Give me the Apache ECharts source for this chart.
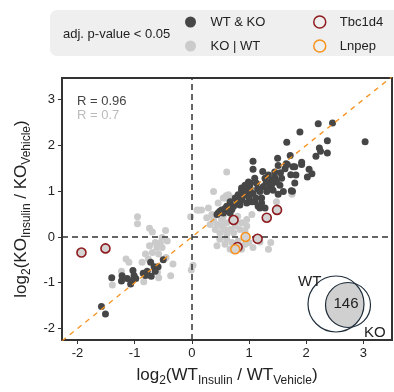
<!DOCTYPE html>
<html>
<head>
<meta charset="utf-8">
<script src="https://cdn.jsdelivr.net/npm/echarts@6/dist/echarts.min.js"></script>
<style>
  html, body { margin: 0; padding: 0; background: #fff; }
  #chart { width: 394px; height: 392px; }
</style>
</head>
<body>
<div id="chart"></div>
<script>
// log2 fold changes [WT, KO]
const bothSig = [
  [-1.58, -1.52], [-1.51, -1.68], [-1.40, -0.89], [-1.22, -0.85], [-1.23, -0.96],
  [-1.13, -0.91], [-1.07, -1.03], [-1.03, -0.73], [-1.01, -0.84], [-0.98, -0.91],
  [-1.04, -0.95], [-0.85, -0.79], [-0.78, -0.75], [-0.72, -0.55], [-0.66, -0.65],
  [-0.59, -0.65], [-0.71, -0.86], [-0.50, -0.50], [-0.64, -0.75], [-0.81, -0.84],
  [2.21, 2.47], [2.46, 2.49], [1.89, 2.29], [1.66, 2.07], [2.37, 2.10], [3.03, 2.08],
  [2.23, 1.94], [2.25, 1.87], [2.37, 1.83], [2.17, 1.76], [1.92, 1.63], [1.92, 1.58],
  [1.80, 1.53], [2.05, 1.48], [2.10, 1.38], [1.82, 1.35], [2.02, 1.31], [1.80, 1.18],
  [1.74, 1.01], [1.07, 1.65], [1.07, 1.48], [1.24, 1.43], [1.50, 1.72], [1.51, 1.56],
  [1.63, 1.49], [1.65, 1.60], [1.45, 1.42], [1.34, 1.35], [1.28, 1.28], [1.40, 1.24],
  [1.48, 1.20], [1.57, 1.28], [1.37, 1.13], [1.25, 1.10], [1.13, 1.17], [1.10, 1.28],
  [0.99, 1.20], [0.93, 1.13], [1.02, 1.06], [0.87, 1.02], [0.96, 0.95], [1.07, 0.95],
  [1.19, 0.99], [1.31, 0.99], [1.42, 1.02], [1.54, 1.13], [0.81, 0.92], [0.76, 0.85],
  [0.87, 0.81], [0.99, 0.77], [1.10, 0.77], [1.22, 0.85], [0.67, 0.77], [0.61, 0.67],
  [0.73, 0.67], [0.84, 0.70], [0.52, 0.59], [0.46, 0.52], [0.64, 0.56], [1.73, 1.36],
  [1.76, 1.00], [1.60, 0.99], [1.19, 0.63], [1.72, 1.78], [0.44, 0.49], [0.49, 0.56],
  [0.55, 0.52], [0.64, 0.63], [0.67, 0.52], [0.79, 0.74], [0.84, 0.85], [1.16, 0.67],
  [1.28, 0.63], [0.96, 0.74], [1.05, 0.77], [1.22, 0.74], [0.87, 1.07], [1.02, 1.17],
  [1.77, 1.53], [1.67, 1.58], [1.51, 0.93], [1.15, 1.05], [1.30, 1.20], [1.45, 1.30],
  [0.90, 0.90], [1.00, 0.88], [1.35, 1.05], [0.70, 0.60], [0.58, 0.62], [1.12, 0.85],
  [1.40, 1.15], [1.55, 1.40], [0.95, 1.02]
]
const oneSig = [
  [-0.95, 0.44], [-0.95, 0.29], [-0.74, 0.19], [-0.69, 0.11], [-0.46, 0.14], [-0.52, -0.01],
  [-0.64, -0.12], [-0.55, -0.12], [-0.74, -0.19], [-0.61, -0.23], [-0.52, -0.23], [-0.43, -0.09],
  [-0.81, -0.37], [-0.69, -0.34], [-0.58, -0.37], [-0.76, -0.48], [-0.87, -0.55], [-1.15, -0.48],
  [-1.10, -0.55], [-1.23, -0.75], [-1.39, -1.05], [-0.84, -0.98], [-0.60, -0.77], [-0.58, -0.89],
  [-0.37, -0.85], [-0.33, -0.59], [-0.45, -0.45], [-0.02, 0.44], [0.02, -0.62], [-0.01, -0.72],
  [0.38, 0.99], [0.09, 0.59], [0.17, 0.59], [0.29, 0.63], [0.35, 0.49], [0.26, 0.42],
  [0.38, 0.38], [0.32, 0.27], [0.44, 0.27], [0.52, 0.38], [0.52, 0.24], [0.61, 0.31],
  [0.58, 0.16], [0.67, 0.16], [0.49, 0.09], [0.61, 0.06], [0.73, 0.09], [0.84, 0.16],
  [0.76, 0.24], [0.87, 0.31], [0.96, 0.24], [0.93, 0.13], [0.49, -0.05], [0.61, -0.05],
  [0.70, -0.12], [0.58, -0.16], [0.81, -0.09], [0.44, -0.19], [0.67, -0.27], [0.93, -0.16],
  [1.19, -0.11], [0.64, 0.92], [0.55, 0.85], [0.67, 0.74], [0.46, 0.74], [0.96, 0.38],
  [1.05, 0.49], [0.41, 0.16], [0.61, 1.42], [0.58, 0.85], [1.48, 0.77], [1.75, 0.93],
  [1.38, -0.12], [1.34, -0.27], [1.07, -0.23], [0.87, -0.27], [1.00, -0.12], [0.60, 0.90],
  [0.68, 0.86], [0.12, 0.58], [0.70, 0.40], [0.80, 0.45], [0.55, 0.45], [0.73, -0.30]
]
const tbc1d4 = [[-1.93, -0.34], [-1.51, -0.25], [0.73, 0.37], [1.31, 0.42], [1.49, 0.59], [1.15, -0.04], [0.80, -0.22]]
const lnpep = [[0.94, 0.0], [0.76, -0.27]]

const xRange = [-2.27, 3.5]
const yRange = [-2.25, 3.47]
const tickValues = [-2, -1, 0, 1, 2, 3]
const rBoth = 'R = 0.96'
const rOne = 'R = 0.7'
const overlapCount = '146'

const DARK = '#464646'
const LIGHT = '#cbcbcb'
const RED = '#8e1b1f'
const ORANGE = '#f7931e'
const FONT = 'Liberation Sans, Arial, sans-serif'

const chart = echarts.init(document.getElementById('chart'))

// venn lens = intersection of the WT and KO circles, as a polygon
const wt = { cx: 336, cy: 304, r: 28 }
const ko = { cx: 348, cy: 305, r: 22.5 }
const lensPoints = () => {
  const pts = []
  const inside = (c, x, y) => Math.hypot(x - c.cx, y - c.cy) <= c.r + 0.01
  for (let i = 0; i < 180; i++) {
    const t = i / 180 * Math.PI * 2
    const x = ko.cx + ko.r * Math.cos(t), y = ko.cy + ko.r * Math.sin(t)
    if (inside(wt, x, y)) pts.push([x, y])
  }
  for (let i = 0; i < 180; i++) {
    const t = i / 180 * Math.PI * 2
    const x = wt.cx + wt.r * Math.cos(t), y = wt.cy + wt.r * Math.sin(t)
    if (inside(ko, x, y)) pts.push([x, y])
  }
  // sort by angle around the lens centre
  const mx = pts.reduce((s, p) => s + p[0], 0) / pts.length
  const my = pts.reduce((s, p) => s + p[1], 0) / pts.length
  return pts.sort((a, b) => Math.atan2(a[1] - my, a[0] - mx) - Math.atan2(b[1] - my, b[0] - mx))
}

const axisName = (num, den) =>
  `{m|log}{s|2}{m|(${num}}{s|Insulin}{m| / ${den}}{s|Vehicle}{m|)}`
const nameRich = {
  m: { fontSize: 17, fontFamily: FONT, color: '#222', lineHeight: 17, padding: [0, 0, 3, 0], verticalAlign: 'bottom' },
  s: { fontSize: 12, fontFamily: FONT, color: '#222', lineHeight: 12, verticalAlign: 'bottom' }
}

const axisCommon = {
  type: 'value',
  nameLocation: 'middle',
  splitLine: { show: false },
  axisLine: { show: true, onZero: false, lineStyle: { color: '#333', width: 2 } },
  axisTick: { show: true, length: 4, customValues: tickValues, lineStyle: { color: '#333', width: 1 } },
  axisLabel: { customValues: tickValues, fontSize: 13, fontFamily: FONT, color: '#222', margin: 7 }
}

// legend text sits 5px after the icon box, so a wide box pushes the label right
const legendCommon = {
  top: 15, orient: 'vertical', padding: 0, itemGap: 10,
  itemWidth: 30, itemHeight: 11, icon: 'circle',
  textStyle: { fontSize: 13, color: '#222', lineHeight: 14 }
}

const option = {
  animation: false,
  textStyle: { fontFamily: FONT },
  grid: { left: 62, right: 2, top: 78, bottom: 48, show: true, borderColor: '#333', borderWidth: 2 },
  xAxis: {
    ...axisCommon,
    min: xRange[0], max: xRange[1],
    name: axisName('WT', 'WT'), nameGap: 30,
    nameTextStyle: { rich: nameRich }
  },
  yAxis: {
    ...axisCommon,
    min: yRange[0], max: yRange[1],
    name: axisName('KO', 'KO'), nameGap: 26,
    nameTextStyle: { rich: nameRich }
  },
  legend: [
    { ...legendCommon, left: 185, data: ['WT & KO', 'KO | WT'] },
    {
      ...legendCommon, left: 313, itemHeight: 12,
      data: [
        { name: 'Tbc1d4', itemStyle: { color: 'transparent', borderColor: RED, borderWidth: 1.5 } },
        { name: 'Lnpep', itemStyle: { color: 'transparent', borderColor: ORANGE, borderWidth: 1.5 } }
      ]
    }
  ],
  graphic: [
    { type: 'rect', z: -1, shape: { x: 50, y: 10, width: 360, height: 46, r: 7 }, style: { fill: '#efefef' } },
    { type: 'text', x: 63, y: 34, style: { text: 'adj. p-value < 0.05', fontSize: 13, fontFamily: FONT, fill: '#222', verticalAlign: 'middle' } },
    { type: 'text', x: 77, y: 101, style: { text: rBoth, fontSize: 13, fontFamily: FONT, fill: '#444', verticalAlign: 'middle' } },
    { type: 'text', x: 77, y: 115, style: { text: rOne, fontSize: 13, fontFamily: FONT, fill: '#bbb', verticalAlign: 'middle' } },
    { type: 'polygon', z: 10, shape: { points: lensPoints() }, style: { fill: '#d0d0d0' } },
    { type: 'circle', z: 11, shape: { cx: wt.cx, cy: wt.cy, r: wt.r }, style: { fill: 'none', stroke: '#1f2d3a', lineWidth: 1.2 } },
    { type: 'circle', z: 11, shape: { cx: ko.cx, cy: ko.cy, r: ko.r }, style: { fill: 'none', stroke: '#1f2d3a', lineWidth: 1.2 } },
    { type: 'text', z: 12, x: 346, y: 304, style: { text: overlapCount, fontSize: 15, fontFamily: FONT, fill: '#222', align: 'center', verticalAlign: 'middle' } },
    { type: 'text', z: 12, x: 298, y: 282, style: { text: 'WT', fontSize: 15, fontFamily: FONT, fill: '#222', verticalAlign: 'middle' } },
    { type: 'text', z: 12, x: 364, y: 333, style: { text: 'KO', fontSize: 15, fontFamily: FONT, fill: '#222', verticalAlign: 'middle' } }
  ],
  series: [
    {
      name: 'KO | WT', type: 'scatter', data: oneSig, symbolSize: 7,
      itemStyle: { color: LIGHT, opacity: 1 }, z: 2,
      markLine: {
        silent: true, symbol: 'none', label: { show: false },
        lineStyle: { color: '#333', type: [6, 4], width: 1.5 },
        data: [{ xAxis: 0 }, { yAxis: 0 }]
      }
    },
    {
      name: 'WT & KO', type: 'scatter', data: bothSig, symbolSize: 7,
      itemStyle: { color: DARK, opacity: 1 }, z: 3
    },
    {
      name: 'identity', type: 'line', z: 4, symbol: 'none', silent: true,
      data: [[xRange[0], xRange[0]], [xRange[1], xRange[1]]],
      lineStyle: { color: ORANGE, type: [5, 5], width: 1.3 }
    },
    {
      name: 'Tbc1d4', type: 'scatter', data: tbc1d4, symbolSize: 9, z: 5,
      itemStyle: { color: '#d4d4d4', borderColor: RED, borderWidth: 1.6, opacity: 1 }
    },
    {
      name: 'Lnpep', type: 'scatter', data: lnpep, symbolSize: 9, z: 5,
      itemStyle: { color: '#d4d4d4', borderColor: ORANGE, borderWidth: 1.6, opacity: 1 }
    }
  ]
}

chart.setOption(option)
</script>
</body>
</html>
